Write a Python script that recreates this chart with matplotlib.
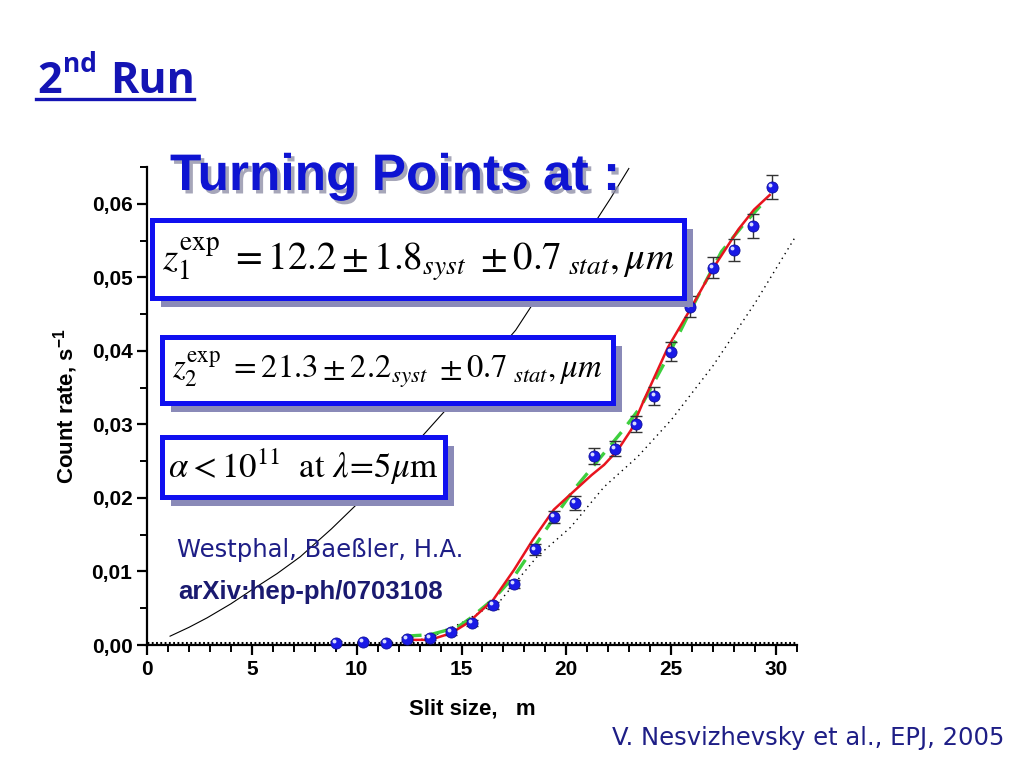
import matplotlib
matplotlib.use('Agg')
import matplotlib.pyplot as plt
import matplotlib.patheffects as pe
from matplotlib.patches import Rectangle
from matplotlib.lines import Line2D
from matplotlib.ticker import MultipleLocator, FuncFormatter
from matplotlib import transforms

plt.rcParams['mathtext.fontset'] = 'stix'
plt.rcParams['font.family'] = ['Liberation Sans', 'DejaVu Sans']

# ── data ──────────────────────────────────────────────────────────────────
slit = [9.0, 10.3, 11.4, 12.4, 13.5, 14.5, 15.5, 16.5, 17.5, 18.5, 19.4,
        20.4, 21.3, 22.3, 23.3, 24.2, 25.0, 25.9, 27.0, 28.0, 28.9, 29.8]
rate = [0.0003, 0.0004, 0.0003, 0.0008, 0.0010, 0.0018, 0.0030, 0.0054,
        0.0083, 0.0130, 0.0174, 0.0193, 0.0257, 0.0267, 0.0300, 0.0339,
        0.0399, 0.0460, 0.0513, 0.0537, 0.0570, 0.0623]
rate_err = [0.0002, 0.0002, 0.0002, 0.0003, 0.0003, 0.0004, 0.0004, 0.0005,
            0.0006, 0.0007, 0.0008, 0.0009, 0.0011, 0.0010, 0.0011, 0.0012,
            0.0013, 0.0014, 0.0014, 0.0015, 0.0016, 0.0016]

fit_x = [12.3, 13.5, 14.5, 15.3, 16.5, 17.5, 18.4, 19.4, 20.2, 20.7, 21.2,
         21.8, 22.45, 23.1, 23.7, 24.85, 25.94, 27.04, 28.2, 28.95, 29.7]
fit_y = [0.0007, 0.0007, 0.0016, 0.0030, 0.0061, 0.0102, 0.0143, 0.0184,
         0.0205, 0.0218, 0.0231, 0.0245, 0.0265, 0.0293, 0.0333, 0.0405,
         0.0458, 0.0514, 0.0565, 0.0592, 0.0612]

fit2_x = [12.3, 13.5, 14.8, 15.4, 16.5, 17.5, 19.1, 20.35, 21.8, 22.7,
          23.55, 24.8, 25.94, 27.4, 28.4, 29.5]
fit2_y = [0.0012, 0.0014, 0.0024, 0.0036, 0.0062, 0.0093, 0.0160, 0.0211,
          0.0261, 0.0292, 0.0324, 0.0390, 0.0456, 0.0535, 0.0570, 0.0605]

theory_x = [1.1, 2.0, 2.87, 4.0, 5.0, 6.2, 7.31, 8.8, 10.32, 11.8, 13.19,
            14.48, 16.0, 17.58, 19.0, 20.2, 21.26, 22.1, 22.98]
theory_y = [0.0012, 0.0024, 0.0037, 0.0056, 0.0075, 0.0097, 0.0120, 0.0158,
            0.0200, 0.0243, 0.0286, 0.0327, 0.0376, 0.0428, 0.0490, 0.0531,
            0.0570, 0.0607, 0.0648]

newton_x = [12.3, 13.5, 15.0, 16.87, 18.6, 20.2, 21.8, 23.4, 25.0, 27.0,
            29.0, 30.9]
newton_y = [0.0003, 0.0010, 0.0030, 0.0061, 0.0120, 0.0160, 0.0215,
            0.0256, 0.0306, 0.0380, 0.0465, 0.0554]

zero_x = [0, 31]
zero_y = [0.0003, 0.0003]

W, H = 1024, 768


def fx(px):
    return px / W


def fy(py):
    return 1 - py / H


fig = plt.figure(figsize=(W / 100, H / 100), dpi=100)
ax = fig.add_axes([fx(147), fy(645), 650 / W, 478 / H])

ax.plot(theory_x, theory_y, color='black', lw=0.8)
ax.plot(newton_x, newton_y, color='black', lw=1.0, ls=(0, (1, 3)))
ax.plot(zero_x, zero_y, color='black', lw=2.2, ls=(0, (0.6, 0.8)),
        clip_on=False)
ax.plot(fit2_x, fit2_y, color='#3ecf3e', lw=2.4, ls=(0, (5, 3)), zorder=3)
ax.plot(fit_x, fit_y, color='#e8141e', lw=1.8, zorder=4)
ax.errorbar(slit, rate, yerr=rate_err, fmt='none', ecolor='#333333',
            elinewidth=1, capsize=4, capthick=1, zorder=5)
ax.plot(slit, rate, 'o', ms=8, mfc='#1a1ae6', mec='#10109a', mew=0.6,
        zorder=6, clip_on=False)
hl = transforms.offset_copy(ax.transData, fig=fig, x=-1.3, y=1.3,
                            units='points')
ax.plot(slit, rate, 'o', ms=2.8, mfc='#d8dcff', mec='none', zorder=7,
        transform=hl, clip_on=False)

ax.set_xlim(0, 31)
ax.set_ylim(0, 0.065)
for s in ['top', 'right']:
    ax.spines[s].set_visible(False)
for s in ['left', 'bottom']:
    ax.spines[s].set_linewidth(1.6)
ax.xaxis.set_major_locator(MultipleLocator(5))
ax.xaxis.set_minor_locator(MultipleLocator(1))
ax.yaxis.set_major_locator(MultipleLocator(0.01))
ax.yaxis.set_minor_locator(MultipleLocator(0.005))
ax.yaxis.set_major_formatter(FuncFormatter(lambda v, p: f'{v:.2f}'.replace('.', ',')))
ax.tick_params(which='major', direction='out', length=7, width=1.6,
               labelsize=15)
ax.tick_params(which='minor', direction='out', length=5, width=1.4)
for lab in ax.get_xticklabels() + ax.get_yticklabels():
    lab.set_fontweight('bold')
ax.set_xlabel('Slit size,   m', fontsize=16, fontweight='bold', labelpad=14)
ax.set_ylabel(r'Count rate, s$^{\mathregular{-1}}$', fontsize=16,
              fontweight='bold', labelpad=8)

# ── titles ────────────────────────────────────────────────────────────────
blue_dark = '#1414b4'
fig.text(fx(37), fy(93), '2', fontsize=31, fontweight='bold',
         family='Open Sans', color=blue_dark, va='baseline')
fig.text(fx(63), fy(72), 'nd', fontsize=19, fontweight='bold',
         family='Open Sans', color=blue_dark, va='baseline')
fig.text(fx(110), fy(93), 'Run', fontsize=31, fontweight='bold',
         family='Open Sans', color=blue_dark, va='baseline')
fig.add_artist(Line2D([fx(36), fx(194)], [fy(99), fy(99)], color=blue_dark,
                      lw=2.4))

fig.text(fx(170), fy(190), 'Turning Points at :', fontsize=37,
         fontweight='bold', color='#0e14d2', va='baseline', zorder=10,
         path_effects=[pe.withSimplePatchShadow(offset=(2.5, -2.5),
                                                shadow_rgbFace='#9090a8',
                                                alpha=0.8)])

# ── equation boxes ────────────────────────────────────────────────────────
boxes = [
    ((152, 220, 684, 298), 28,
     r'$z_1^{\mathrm{exp}}\ = 12.2 \pm 1.8_{syst}\ \pm 0.7_{\ stat}, \mu m$'),
    ((162, 337, 613, 403), 23.5,
     r'$z_2^{\mathrm{exp}}\ = 21.3 \pm 2.2_{syst}\ \pm 0.7_{\ stat}, \mu m$'),
    ((162, 437, 445, 497), 25,
     r'$\alpha < 10^{11}\ \ \mathrm{at}\ \lambda\!=\!5\mu\mathrm{m}$'),
]
for (x0, y0, x1, y1), size, txt in boxes:
    fig.add_artist(Rectangle((fx(x0 + 9), fy(y1 + 9)), (x1 - x0) / W,
                             (y1 - y0) / H, facecolor='#8a8ab8',
                             edgecolor='none', zorder=8))
    fig.add_artist(Rectangle((fx(x0), fy(y1)), (x1 - x0) / W, (y1 - y0) / H,
                             facecolor='white', edgecolor='#1010f0', lw=3.6,
                             zorder=9))
    fig.text(fx((x0 + x1) / 2), fy((y0 + y1) / 2), txt, fontsize=size,
             ha='center', va='center', zorder=10)

fig.text(fx(177), fy(550), 'Westphal, Baeßler, H.A.', fontsize=17.5,
         color='#1e1e86', va='center', family='DejaVu Sans')
fig.text(fx(178), fy(592), 'arXiv:hep-ph/0703108', fontsize=18.5,
         fontweight='bold', color='#1a1a70', va='center')
fig.text(fx(612), fy(738), 'V. Nesvizhevsky et al., EPJ, 2005', fontsize=17.5,
         color='#1e1e86', va='center', family='DejaVu Sans')

fig.savefig('out.png', dpi=100)
